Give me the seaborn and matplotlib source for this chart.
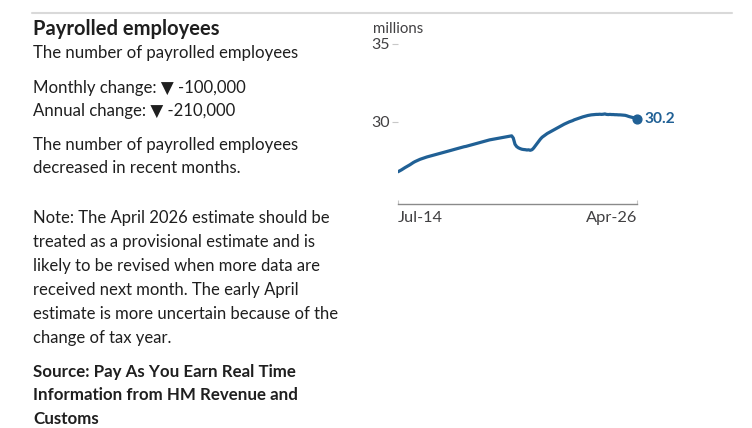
import numpy as np
import pandas as pd
import matplotlib
matplotlib.use("Agg")
import matplotlib.pyplot as plt
import seaborn as sns

sns.set_theme(style="white")
plt.rcParams["font.family"] = ["Lato", "DejaVu Sans"]

# payrolled employees, millions, monthly Jul 2014 - Apr 2026
start_month = "2014-07-01"
employees = [
    26.78, 26.84, 26.90, 26.97, 27.04, 27.10,
    27.16, 27.23, 27.30, 27.37, 27.43, 27.48, 27.53, 27.58, 27.62, 27.66, 27.70, 27.73,
    27.76, 27.79, 27.82, 27.85, 27.88, 27.91, 27.94, 27.97, 28.00, 28.03, 28.06, 28.09,
    28.12, 28.15, 28.18, 28.21, 28.24, 28.27, 28.30, 28.33, 28.36, 28.39, 28.41, 28.44,
    28.47, 28.50, 28.53, 28.56, 28.59, 28.62, 28.65, 28.68, 28.71, 28.74, 28.77, 28.80,
    28.83, 28.85, 28.87, 28.89, 28.91, 28.93, 28.95, 28.97, 28.99, 29.01, 29.03, 29.05,
    29.07, 29.09, 28.95, 28.55, 28.40, 28.32, 28.27, 28.23, 28.21, 28.20, 28.18, 28.19,
    28.16, 28.20, 28.30, 28.45, 28.60, 28.75, 28.88, 29.00, 29.08, 29.16, 29.24, 29.30,
    29.36, 29.42, 29.48, 29.54, 29.60, 29.66, 29.72, 29.78, 29.84, 29.89, 29.94, 29.99,
    30.03, 30.07, 30.12, 30.16, 30.20, 30.24, 30.28, 30.31, 30.34, 30.37, 30.40, 30.42,
    30.44, 30.45, 30.46, 30.47, 30.47, 30.48, 30.47, 30.48, 30.50, 30.47, 30.46, 30.47,
    30.46, 30.46, 30.45, 30.45, 30.44, 30.44, 30.43, 30.42, 30.41, 30.38, 30.34, 30.31,
    30.28, 30.26, 30.24, 30.20,
]
y_ticks = [30, 35]
x_tick_labels = ["Jul-14", "Apr-26"]

title = "Payrolled employees"
subtitle = "The number of payrolled employees"
changes = ["Monthly change: \u25BC -100,000", "Annual change: \u25BC -210,000"]
summary = ["The number of payrolled employees", "decreased in recent months."]
note = [
    "Note: The April 2026 estimate should be",
    "treated as a provisional estimate and is",
    "likely to be revised when more data are",
    "received next month. The early April",
    "estimate is more uncertain because of the",
    "change of tax year.",
]
source = ["Source: Pay As You Earn Real Time", "Information from HM Revenue and", "Customs"]

df = pd.DataFrame({
    "month": pd.date_range(start_month, periods=len(employees), freq="MS"),
    "employees": employees,
})

W, H = 752, 428
BLUE = "#206095"
TXT = "#1f1f1f"
GREY = "#414042"

fig = plt.figure(figsize=(W / 100, H / 100), dpi=100)
fig.patch.set_facecolor("white")

# top rule
fig.add_artist(plt.Line2D([32 / W, 732 / W], [1 - 13 / H, 1 - 13 / H], color="#d9d9d9", lw=1.5))


def ftext(x, y_base, s, **kw):
    fig.text(x / W, 1 - y_base / H, s, va="baseline", ha="left", color=TXT, **kw)


ftext(33, 35, title, fontsize=14.5, fontweight="bold")
ftext(33, 58, subtitle, fontsize=12.1)
for i, s in enumerate(changes):
    ftext(33, 93 + 23 * i, s, fontsize=12.1)
for i, s in enumerate(summary):
    ftext(33, 150 + 23 * i, s, fontsize=12.1)
for i, s in enumerate(note):
    ftext(33, 223 + 24 * i, s, fontsize=12.0)
for i, s in enumerate(source):
    ftext(33, 377 + 23.5 * i, s, fontsize=12.2, fontweight="bold")

# chart area
x0, x1, ytop, ybot = 398, 637, 44, 204
ax = fig.add_axes([x0 / W, 1 - ybot / H, (x1 - x0) / W, (ybot - ytop) / H])
sns.lineplot(data=df, x="month", y="employees", ax=ax, color=BLUE, lw=2.3)
last = df.iloc[-1]
ax.scatter([last["month"]], [last["employees"]], s=40, color=BLUE, zorder=5, clip_on=False)
ax.annotate(f"{last['employees']:.1f}", (last["month"], last["employees"]),
            xytext=(5.5, 0), textcoords="offset points", va="center", ha="left",
            color=BLUE, fontsize=11.2, fontweight="bold", annotation_clip=False)

ax.set_xlim(df["month"].iloc[0], df["month"].iloc[-1])
lo = 30 - (ybot - 121.7) / ((121.7 - 44) / 5)
ax.set_ylim(lo, 35)
for side in ["top", "right", "left"]:
    ax.spines[side].set_visible(False)
ax.spines["bottom"].set_color("#8a8a8a")
ax.spines["bottom"].set_linewidth(1)

ax.set_yticks(y_ticks)
ax.set_yticklabels([str(t) for t in y_ticks])
ax.set_xticks([df["month"].iloc[0], df["month"].iloc[-1]])
ax.set_xticklabels(x_tick_labels)
ax.tick_params(axis="y", length=4, width=0.8, color="#c8c8c8", labelcolor=GREY,
               labelsize=11.5, pad=2, left=True)
ax.tick_params(axis="x", direction="in", length=3, width=0.8, color="#c8c8c8",
               labelcolor=GREY, labelsize=11.8, pad=5, bottom=True)
xl = ax.get_xticklabels()
xl[0].set_ha("left")
xl[1].set_ha("right")
ax.set_xlabel("")
ax.set_ylabel("")
ax.text(373 / W, 1 - 33 / H, "millions", transform=fig.transFigure, ha="left",
        va="baseline", color=GREY, fontsize=10.8)
ax.grid(False)
ax.set_facecolor("none")

fig.savefig("out.png", dpi=100, facecolor="white")
